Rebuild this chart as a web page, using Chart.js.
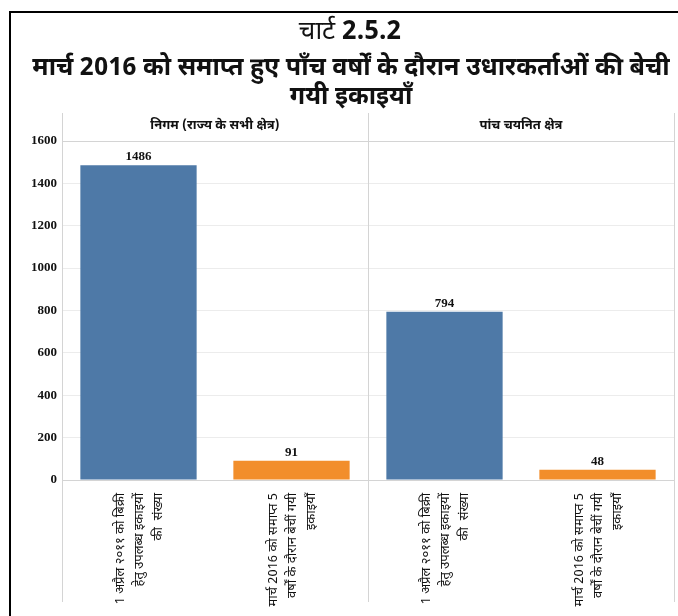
<!DOCTYPE html>
<html>
<head>
<meta charset="utf-8">
<script src="https://cdn.jsdelivr.net/npm/chart.js@4"></script>
<style>
  html, body { margin: 0; padding: 0; background: #fff; }
  #wrap { width: 678px; height: 616px; }
</style>
</head>
<body>
<div id="wrap"><canvas id="unitsChart"></canvas></div>
<script>
// panels and categories
const panelTitles = ['निगम (राज्य के सभी क्षेत्र)', 'पांच चयनित क्षेत्र'];
const availableLabel = ['1 अप्रैल २०११ को बिक्री', 'हेतु उपलब्ध इकाइयों', 'की  संख्या'];
const soldLabel = ['मार्च 2016 को समाप्त 5', 'वर्षों के दौरान बेचीं गयी', 'इकाइयाँ'];

// units per panel
const availableUnits = [1486, 794];
const soldUnits = [91, 48];

const yMax = 1600;
const yStep = 200;

const chartNo = ['चार्ट ', '2.5.2'];
const chartTitle = ['मार्च 2016 को समाप्त हुए पाँच वर्षों के दौरान उधारकर्ताओं की बेची', 'गयी इकाइयाँ'];

const blue = '#4e79a7';
const orange = '#f28e2b';
const hindi = "'Noto Sans Devanagari', 'Lohit Devanagari', FreeSans, 'Noto Sans', sans-serif";
const serif = "'Liberation Serif', 'Times New Roman', serif";

let labels = [];
let values = [];
let colors = [];
panelTitles.forEach(function (p, i) {
    labels.push(availableLabel, soldLabel);
    values.push(availableUnits[i], soldUnits[i]);
    colors.push(blue, orange);
});

// frame, panel headers, divider lines and value labels
const panelDecor = {
    id: 'panelDecor',
    beforeDraw(chart) {
        const c = chart.ctx;
        c.save();
        c.strokeStyle = '#000';
        c.lineWidth = 2;
        c.beginPath();
        c.moveTo(10, 616);
        c.lineTo(10, 12);
        c.lineTo(678, 12);
        c.stroke();
        c.restore();
    },
    afterDraw(chart) {
        const c = chart.ctx;
        const area = chart.chartArea;
        const x = chart.scales.x;
        const mid = (x.getPixelForValue(1) + x.getPixelForValue(2)) / 2;
        const edges = [area.left, mid, area.right];
        const headTop = 113, bottom = 602;

        c.save();
        c.strokeStyle = '#d4d4d4';
        c.lineWidth = 1;
        edges.forEach(function (ex) {
            c.beginPath();
            c.moveTo(Math.round(ex) + 0.5, headTop);
            c.lineTo(Math.round(ex) + 0.5, bottom);
            c.stroke();
        });
        [area.top, area.bottom].forEach(function (ey) {
            c.beginPath();
            c.moveTo(area.left, Math.round(ey) + 0.5);
            c.lineTo(area.right, Math.round(ey) + 0.5);
            c.stroke();
        });

        // panel headers
        c.fillStyle = '#111';
        c.font = 'bold 13px ' + hindi;
        c.textAlign = 'center';
        c.textBaseline = 'middle';
        c.fillText(panelTitles[0], (edges[0] + edges[1]) / 2, 127);
        c.fillText(panelTitles[1], (edges[1] + edges[2]) / 2, 127);

        // bar values
        c.font = 'bold 13px ' + serif;
        c.textBaseline = 'bottom';
        chart.getDatasetMeta(0).data.forEach(function (bar, i) {
            c.fillText(values[i], bar.x, bar.y - 2);
        });

        // chart number line
        c.textAlign = 'left';
        c.textBaseline = 'middle';
        c.font = '26px ' + hindi;
        const w1 = c.measureText(chartNo[0]).width;
        c.font = 'bold 26px ' + hindi;
        const w2 = c.measureText(chartNo[1]).width;
        const sx = 350 - (w1 + w2) / 2;
        c.font = '26px ' + hindi;
        c.fillText(chartNo[0], sx, 34);
        c.font = 'bold 26px ' + hindi;
        c.fillText(chartNo[1], sx + w1, 34);
        c.restore();
    }
};

const ctx = document.getElementById('unitsChart');

new Chart(ctx, {
    type: 'bar',
    data: {
        labels: labels,
        datasets: [{
            data: values,
            backgroundColor: colors,
            categoryPercentage: 1,
            barPercentage: 0.76
        }]
    },
    options: {
        responsive: true,
        maintainAspectRatio: false,
        animation: false,
        layout: { padding: { left: 28, right: 4, bottom: 6, top: 0 } },
        plugins: {
            legend: { display: false },
            tooltip: { enabled: false },
            title: {
                display: true,
                text: chartTitle,
                color: '#111',
                font: { family: hindi, size: 25, weight: 'bold', lineHeight: 1.16 },
                padding: { top: 56, bottom: 27 }
            }
        },
        scales: {
            x: {
                grid: { display: false },
                border: { display: false },
                ticks: {
                    autoSkip: false,
                    minRotation: 90,
                    maxRotation: 90,
                    padding: 5,
                    labelOffset: -17,
                    color: '#111',
                    font: { family: hindi, size: 13, lineHeight: 1.46 }
                },
                afterFit(scale) { scale.height = 130; }
            },
            y: {
                min: 0,
                max: yMax,
                grid: { color: '#ececec', drawTicks: false },
                border: { display: false },
                ticks: {
                    stepSize: yStep,
                    padding: 5,
                    color: '#111',
                    font: { family: serif, size: 13, weight: 'bold' },
                    callback: function (v) { return String(v); }
                },
                afterFit(scale) { scale.width = 34; }
            }
        }
    },
    plugins: [panelDecor]
});
</script>
</body>
</html>
